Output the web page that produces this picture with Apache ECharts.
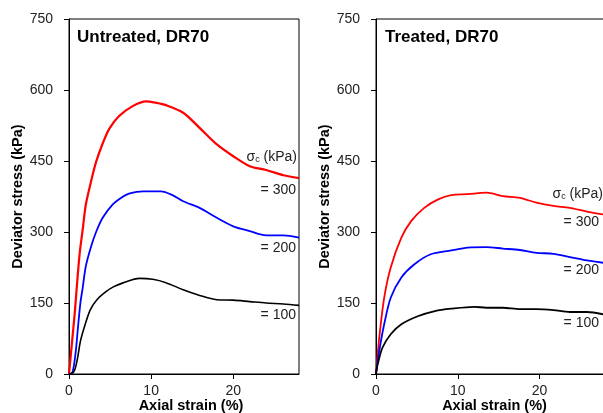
<!DOCTYPE html>
<html>
<head>
<meta charset="utf-8">
<script src="https://cdn.jsdelivr.net/npm/echarts@6/dist/echarts.min.js"></script>
<style>
html,body{margin:0;padding:0;background:#fff;}
#chart{width:603px;height:413px;}
</style>
</head>
<body>
<div id="chart"></div>
<script>
// ---- data (axial strain %, deviator stress kPa) ----
var untreated300 = [[0,0],[0.4,73],[0.7,129],[1.0,195],[1.3,255],[1.7,310],[2.05,358],[2.7,408],[3.3,448],[4.1,487],[4.9,518],[6.1,545],[7.75,566],[9.4,576],[10.6,573],[11.8,568],[13.9,552],[15.9,520],[18.0,485],[20.0,460],[22.0,439],[24.0,431],[26.1,420],[28.0,414]];
var untreated200 = [[0,0],[0.4,2],[0.8,44],[1.1,100],[1.4,152],[1.65,180],[2.05,228],[2.7,270],[3.3,300],[4.1,330],[5.3,358],[6.5,374],[7.3,381],[9.0,386],[11.2,386],[12.6,378],[13.9,365],[15.9,351],[18.0,330],[20.0,312],[22.0,302],[24.0,293],[26.1,293],[28.0,288]];
var untreated100 = [[0,0],[0.6,5],[1.0,30],[1.4,70],[1.9,101],[2.6,136],[3.4,157],[4.5,174],[5.4,184],[6.5,192],[8.6,202],[10.2,200],[11.8,193],[13.9,178],[15.9,166],[18.0,157],[20.0,156],[22.0,153],[24.0,150],[26.1,148],[28.0,145]];
var treated300 = [[0,0],[0.4,77],[1.0,161],[1.8,225],[3.1,288],[4.3,323],[5.9,351],[7.6,369],[9.2,378],[11.2,380],[13.5,383],[15.5,376],[17.6,372],[19.6,362],[21.7,355],[23.7,351],[25.8,343],[27.8,337]];
var treated200 = [[0,0],[0.4,49],[1.0,105],[1.8,161],[3.1,204],[4.7,232],[6.7,253],[9.2,261],[11.2,267],[13.5,268],[15.5,265],[17.6,262],[19.6,256],[21.7,254],[23.7,247],[25.8,240],[27.8,235]];
var treated100 = [[0,0],[0.2,20],[0.8,56],[1.8,84],[3.1,105],[5.1,122],[7.2,133],[9.2,138],[12.0,142],[13.5,140],[15.5,140],[17.6,137],[19.6,137],[21.7,135],[23.7,131],[25.8,131],[27.8,126]];
var panelTitles = ['Untreated, DR70', 'Treated, DR70'];
var pressureLabels = ['= 300', '= 200', '= 100'];
var xName = 'Axial strain (%)';
var yName = 'Deviator stress (kPa)';

var FONT = '"Liberation Sans", Arial, sans-serif';
var chart = echarts.init(document.getElementById('chart'), null, {renderer:'canvas'});

function xAxisDef(idx, pad){
  return {
    gridIndex: idx, type:'value', min:0, max:28, interval:10,
    name: xName, nameLocation:'middle', nameGap:24, nameMoveOverlap:false,
    nameTextStyle:{fontFamily:FONT, fontSize:14.5, fontWeight:'bold', color:'#000', padding:[0,0,0,pad]},
    axisLine:{show:true, lineStyle:{color:'#000', width:1}},
    axisTick:{show:true, inside:false, length:5, lineStyle:{color:'#000'}},
    axisLabel:{fontFamily:FONT, fontSize:14, color:'#222', margin:10, showMaxLabel:false},
    splitLine:{show:false}
  };
}
function yAxisDef(idx, gap){
  return {
    gridIndex: idx, type:'value', min:0, max:750, interval:150,
    name: yName, nameLocation:'middle', nameGap:gap,
    nameTextStyle:{fontFamily:FONT, fontSize:14.5, fontWeight:'bold', color:'#000'},
    axisLine:{show:true, lineStyle:{color:'#000', width:1}},
    axisTick:{show:true, inside:false, length:5, lineStyle:{color:'#000'}},
    axisLabel:{fontFamily:FONT, fontSize:14, color:'#222', margin:16},
    splitLine:{show:false}
  };
}
function lineSeries(idx, data, color, w){
  return {
    type:'line', xAxisIndex:idx, yAxisIndex:idx, data:data,
    showSymbol:false, symbol:'none', smooth:0.3,
    lineStyle:{color:color, width:w}, silent:true, animation:false
  };
}
function txt(x, y, s, align, opts){
  var st = Object.assign({text:s, x:x, y:y, textAlign:align, textVerticalAlign:'middle',
    font:'14px ' + FONT, fill:'#222'}, opts || {});
  return {type:'text', silent:true, style:st};
}
function sigmaLabel(x, y){
  return {type:'text', silent:true, style:{
    x:x, y:y, align:'right', verticalAlign:'middle',
    text:'σ{sub|c} (kPa)',
    rich:{sub:{fontSize:9, fontFamily:FONT, fill:'#222', padding:[6,0,0,0]}},
    fontSize:14, fontFamily:FONT, fill:'#222'
  }};
}

var option = {
  animation:false,
  backgroundColor:'#fff',
  grid:[
    {left:69, top:19, width:230, height:355, show:true, borderColor:'#000', borderWidth:1, containLabel:false, outerBoundsMode:'none'},
    {left:376, top:19, width:229, height:355, show:true, borderColor:'#000', borderWidth:1, containLabel:false, outerBoundsMode:'none'}
  ],
  xAxis:[xAxisDef(0, 14), xAxisDef(1, 8)],
  yAxis:[yAxisDef(0, 42), yAxisDef(1, 40)],
  series:[
    lineSeries(0, untreated300, '#ff0000', 2.2),
    lineSeries(0, untreated200, '#0000ff', 1.8),
    lineSeries(0, untreated100, '#000000', 1.6),
    lineSeries(1, treated300, '#ff0000', 1.8),
    lineSeries(1, treated200, '#0000ff', 1.8),
    lineSeries(1, treated100, '#000000', 1.8)
  ],
  graphic:[
    txt(77, 37, panelTitles[0], 'left', {font:'bold 17px ' + FONT, fill:'#000'}),
    txt(385, 37, panelTitles[1], 'left', {font:'bold 17px ' + FONT, fill:'#000'}),
    sigmaLabel(297, 157),
    txt(296, 190, pressureLabels[0], 'right'),
    txt(296, 248, pressureLabels[1], 'right'),
    txt(296, 315, pressureLabels[2], 'right'),
    sigmaLabel(603, 194),
    txt(599, 222, pressureLabels[0], 'right'),
    txt(599, 270, pressureLabels[1], 'right'),
    txt(599, 323, pressureLabels[2], 'right')
  ]
};
chart.setOption(option);
</script>
</body>
</html>
